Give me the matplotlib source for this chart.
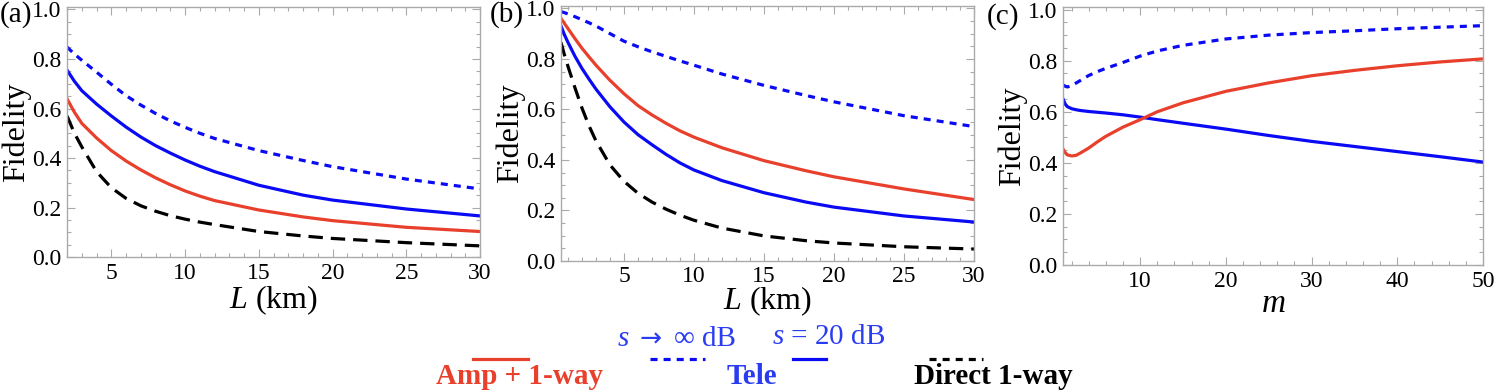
import matplotlib
matplotlib.use("Agg")
import matplotlib.pyplot as plt
from matplotlib.lines import Line2D
from matplotlib.ticker import MultipleLocator, FormatStrFormatter

plt.rcParams["font.family"] = ["Liberation Serif", "DejaVu Serif"]
plt.rcParams["mathtext.fontset"] = "custom"
plt.rcParams["mathtext.rm"] = "Liberation Serif"
plt.rcParams["mathtext.it"] = "Liberation Serif:italic"
plt.rcParams["mathtext.bf"] = "Liberation Serif:bold"

RED = "#e8402c"
BLUE = "#0a0af5"
TXT_BLUE = "#2a3cf0"

# ---- panel (a): fidelity vs L ----
a_L = [2, 2.5, 3, 4, 5, 6, 7, 8, 9, 10, 11, 12, 15, 18, 20, 25, 30]
a_tele_inf = [0.848, 0.82, 0.795, 0.747, 0.698, 0.652, 0.614, 0.58, 0.55, 0.524, 0.5, 0.479, 0.43, 0.39, 0.365, 0.315, 0.275]
a_tele_20 = [0.755, 0.71, 0.672, 0.618, 0.57, 0.525, 0.485, 0.45, 0.42, 0.392, 0.367, 0.345, 0.29, 0.25, 0.23, 0.194, 0.166]
a_amp = [0.639, 0.585, 0.54, 0.481, 0.43, 0.388, 0.352, 0.32, 0.292, 0.267, 0.246, 0.228, 0.19, 0.162, 0.147, 0.12, 0.103]
a_direct = [0.57, 0.5, 0.445, 0.345, 0.28, 0.237, 0.207, 0.185, 0.167, 0.153, 0.141, 0.131, 0.103, 0.085, 0.075, 0.058, 0.045]

# ---- panel (b): fidelity vs L ----
b_L = [0.5, 0.75, 1, 1.5, 2, 2.5, 3, 4, 5, 6, 7, 8, 9, 10, 12, 15, 18, 20, 25, 30]
b_tele_inf = [0.987, 0.983, 0.978, 0.967, 0.955, 0.943, 0.93, 0.9, 0.87, 0.848, 0.828, 0.81, 0.792, 0.775, 0.74, 0.695, 0.655, 0.63, 0.575, 0.532]
b_tele_20 = [0.93, 0.895, 0.865, 0.81, 0.762, 0.72, 0.68, 0.61, 0.55, 0.5, 0.46, 0.422, 0.388, 0.36, 0.318, 0.27, 0.233, 0.213, 0.178, 0.154]
b_amp = [0.96, 0.94, 0.92, 0.88, 0.842, 0.808, 0.775, 0.715, 0.662, 0.615, 0.578, 0.545, 0.515, 0.49, 0.448, 0.397, 0.357, 0.333, 0.285, 0.243]
b_direct = [0.865, 0.815, 0.77, 0.685, 0.605, 0.535, 0.475, 0.38, 0.315, 0.268, 0.233, 0.205, 0.181, 0.161, 0.13, 0.099, 0.08, 0.071, 0.056, 0.047]

# ---- panel (c): fidelity vs m ----
c_m = [1, 1.25, 1.5, 2, 2.5, 3, 4, 5, 6, 8, 10, 12, 15, 20, 25, 30, 35, 40, 45, 50]
c_tele_inf = [0.705, 0.7, 0.697, 0.702, 0.712, 0.722, 0.742, 0.757, 0.77, 0.793, 0.818, 0.838, 0.86, 0.885, 0.9, 0.91, 0.917, 0.925, 0.931, 0.937]
c_tele_20 = [0.65, 0.63, 0.62, 0.612, 0.608, 0.605, 0.601, 0.598, 0.595, 0.588, 0.579, 0.569, 0.555, 0.532, 0.507, 0.484, 0.464, 0.444, 0.424, 0.403]
c_amp = [0.454, 0.44, 0.431, 0.427, 0.429, 0.438, 0.458, 0.482, 0.504, 0.54, 0.569, 0.6, 0.635, 0.68, 0.713, 0.741, 0.762, 0.78, 0.795, 0.807]

fig = plt.figure(figsize=(15, 3.9), dpi=100)
ax_a = fig.add_axes([0.0447, 0.341, 0.2753, 0.641])
ax_b = fig.add_axes([0.374, 0.331, 0.2753, 0.654])
ax_c = fig.add_axes([0.7087, 0.3205, 0.28, 0.6615])

lw = 2.3
dot_style = dict(color=BLUE, lw=lw, dashes=(2.2, 1.9))
dash_style = dict(color="black", lw=lw, dashes=(4.5, 2.5))

ax_a.plot(a_L, a_tele_inf, **dot_style)
ax_a.plot(a_L, a_tele_20, color=BLUE, lw=lw)
ax_a.plot(a_L, a_amp, color=RED, lw=lw)
ax_a.plot(a_L, a_direct, **dash_style)

ax_b.plot(b_L, b_tele_inf, **dot_style)
ax_b.plot(b_L, b_amp, color=RED, lw=lw)
ax_b.plot(b_L, b_tele_20, color=BLUE, lw=lw)
ax_b.plot(b_L, b_direct, **dash_style)

ax_c.plot(c_m, c_tele_inf, **dot_style)
ax_c.plot(c_m, c_tele_20, color=BLUE, lw=lw)
ax_c.plot(c_m, c_amp, color=RED, lw=lw)

for ax, xlim, xmaj, xmin in [(ax_a, (2, 30), 5, 1), (ax_b, (0.5, 30), 5, 1), (ax_c, (1, 50), 10, 2)]:
    ax.set_xlim(*xlim)
    ax.set_ylim(0, 1.01)
    ax.xaxis.set_major_locator(MultipleLocator(xmaj))
    ax.xaxis.set_minor_locator(MultipleLocator(xmin))
    ax.yaxis.set_major_locator(MultipleLocator(0.2))
    ax.yaxis.set_minor_locator(MultipleLocator(0.05))
    ax.yaxis.set_major_formatter(FormatStrFormatter("%.1f"))
    ax.tick_params(which="both", direction="in", top=True, right=True, color="#aaaaaa", labelsize=17, pad=4)
    ax.tick_params(which="major", length=6, width=0.8)
    ax.tick_params(which="minor", length=3, width=0.8)
    for sp in ax.spines.values():
        sp.set_color("#aaaaaa")
        sp.set_linewidth(1.0)
    ax.set_ylabel("Fidelity", fontsize=23, labelpad=1)

ax_a.set_xlabel(r"$L$ (km)", fontsize=23, labelpad=0)
ax_b.set_xlabel(r"$L$ (km)", fontsize=23, labelpad=-2)
ax_c.set_xlabel(r"$m$", fontsize=24, labelpad=-2)

fig.text(0.0, 0.962, "(a)", fontsize=21, va="center", ha="left")
fig.text(0.3265, 0.962, "(b)", fontsize=21, va="center", ha="left")
fig.text(0.658, 0.957, "(c)", fontsize=21, va="center", ha="left")

# ---- legend at the bottom ----
def px(x, y):
    return x / 1500, 1 - y / 390

fig.text(*px(519, 376), "Amp + 1-way", color=RED, fontsize=21, fontweight="bold", ha="center", va="center")
fig.text(*px(752, 377), "Tele", color=TXT_BLUE, fontsize=21, fontweight="bold", ha="center", va="center")
fig.text(*px(993, 376), "Direct 1-way", color="black", fontsize=21, fontweight="bold", ha="center", va="center")
fig.text(*px(617, 339), r"$s$", color=TXT_BLUE, fontsize=21, ha="left", va="center")
fig.text(*px(651, 340), "→", color=TXT_BLUE, fontsize=19, ha="center", va="center", family="DejaVu Sans")
fig.text(*px(674, 339), "∞ dB", color=TXT_BLUE, fontsize=21, ha="left", va="center")
fig.text(*px(829, 337), r"$s$ = 20 dB", color=TXT_BLUE, fontsize=21, ha="center", va="center")

for (x0, x1), style in [((473, 528), dict(color=RED, lw=lw)),
                        ((650, 705), dict(color=BLUE, lw=lw, dashes=(2.2, 1.9))),
                        ((793, 826), dict(color=BLUE, lw=lw)),
                        ((929, 983), dict(color="black", lw=lw, dashes=(2.2, 1.9)))]:
    xa, ya = px(x0, 359)
    xb, _ = px(x1, 359)
    fig.add_artist(Line2D([xa, xb], [ya, ya], transform=fig.transFigure, **style))

fig.savefig("out.png", dpi=100)
